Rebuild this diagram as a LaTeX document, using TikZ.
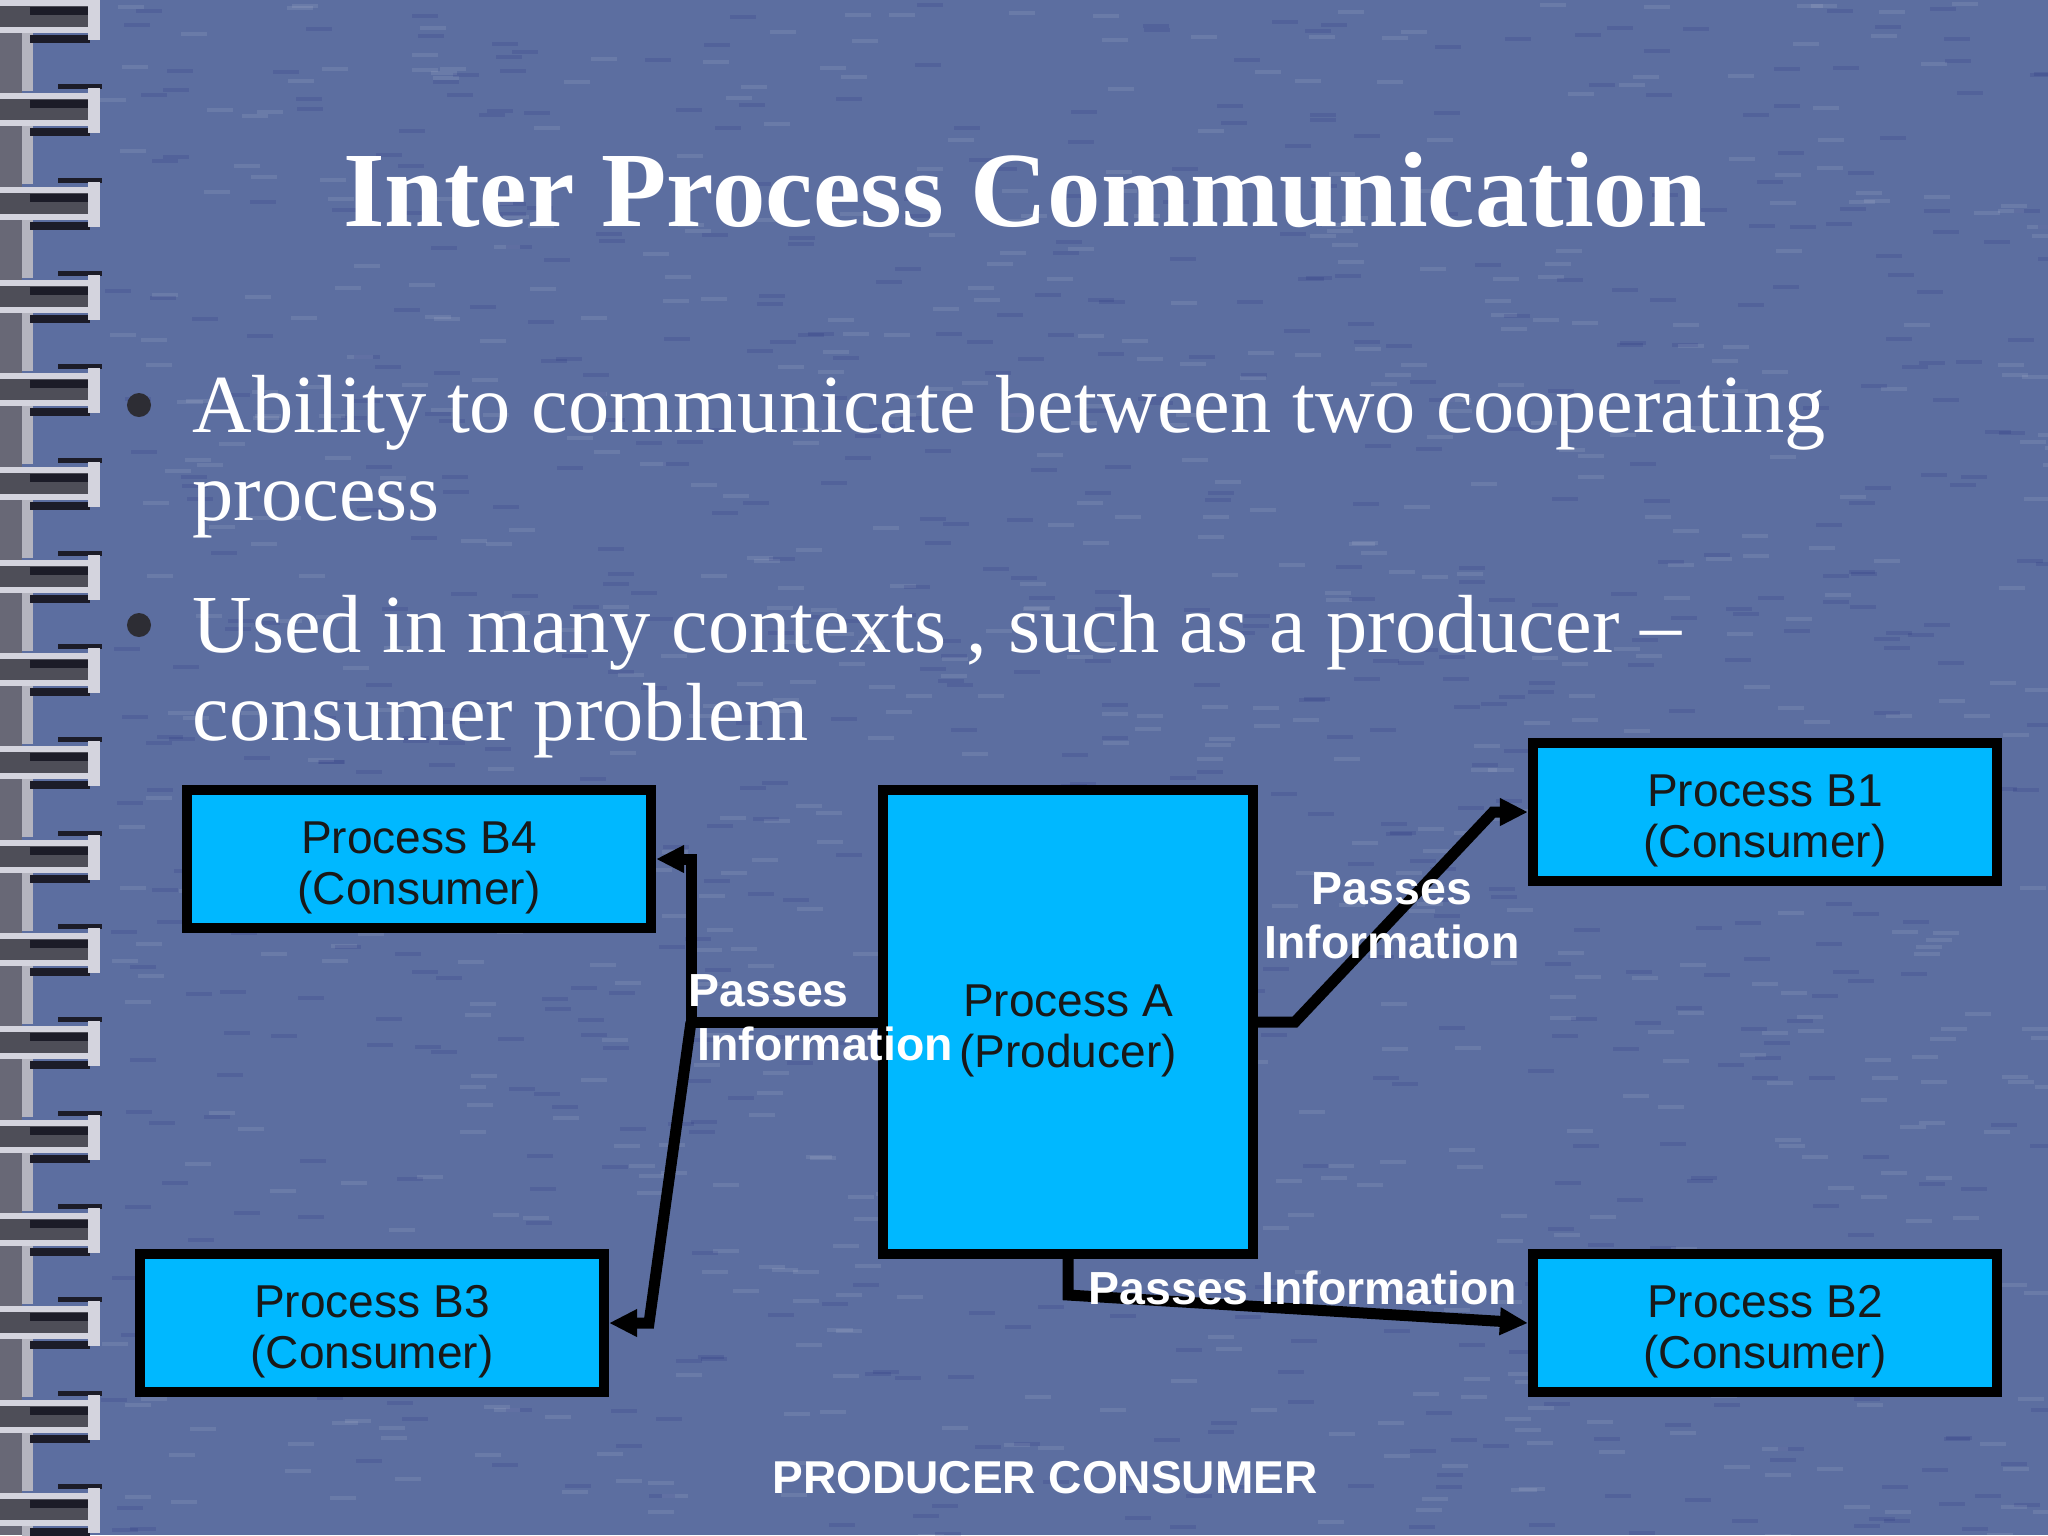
\documentclass[tikz,border=0pt]{standalone}
\usepackage{fontspec}
\setmainfont{Liberation Serif}
\newfontfamily\procfont{Liberation Sans}
\usetikzlibrary{arrows.meta}

\definecolor{denim}{RGB}{92,110,160}
\definecolor{procblue}{RGB}{0,184,255}
\definecolor{wire}{RGB}{212,212,222}
\definecolor{wireshade}{RGB}{28,28,40}
\definecolor{gapgrey}{RGB}{104,104,118}
\definecolor{dotgrey}{RGB}{45,45,52}

\tikzset{
  proc/.style={draw=black, line width=0.1cm, fill=procblue, inner sep=0pt,
    minimum width=4.64cm, minimum height=1.38cm, align=center,
    text=black!90, font=\procfont\fontsize{13.1}{14.5}\selectfont},
  pass/.style={line width=0.11cm, -{Triangle[length=0.28cm,width=0.26cm]}},
  passlabel/.style={text=white, inner sep=0pt,
    font=\procfont\bfseries\fontsize{13.2}{15.1}\selectfont},
  bullet/.style={text=white, inner sep=0pt, align=left, anchor=base west,
    font=\fontsize{23.45}{25}\selectfont},
}

\begin{document}
\begin{tikzpicture}[x=0.01cm, y=-0.01cm]

% Page and denim background
\useasboundingbox (0,0) rectangle (2048,1535);
\fill[denim] (0,0) rectangle (2048,1535);
\pgfmathsetseed{11}
\foreach \i in {1,...,700}{
  \pgfmathsetmacro\tx{100+rnd*1950}
  \pgfmathsetmacro\ty{rnd*1535}
  \fill[white, opacity=0.09] (\tx,\ty) rectangle (\tx+26,\ty+4);
  \pgfmathsetmacro\tx{100+rnd*1950}
  \pgfmathsetmacro\ty{rnd*1535}
  \fill[black!60!blue, opacity=0.1] (\tx,\ty) rectangle (\tx+26,\ty+4);
}

% Spiral binding on the left
\fill[gapgrey] (0,0) rectangle (22,1535);
\foreach \k in {0,...,16}{
  \pgfmathsetmacro\yy{3+93.3*\k}
  \fill[gapgrey!75!black] (0,\yy) rectangle (88,\yy+27);
  \fill[wire!70!gapgrey] (22,\yy+30) rectangle (33,\yy+88);
  \fill[wireshade] (58,\yy-12) rectangle (102,\yy-7);
  \fill[wireshade] (30,\yy+4) rectangle (90,\yy+12);
  \fill[wireshade] (30,\yy+32) rectangle (90,\yy+40);
  \fill[wire] (0,\yy-3) rectangle (92,\yy+3);
  \fill[wire] (0,\yy+24) rectangle (90,\yy+30);
  \fill[wire] (88,\yy-8) rectangle (100,\yy+37);
}

% Title
\node[anchor=base, text=white, inner sep=0pt,
  font=\bfseries\fontsize{30.4}{36}\selectfont] (title) at (1025,226)
  {Inter Process Communication};

% Bullet points
\fill[dotgrey] (139,405) circle (0.12cm);
\node[bullet] (point1) at (192,520)
  {Ability to communicate between two cooperating\\process};
\fill[dotgrey] (139,625) circle (0.12cm);
\node[bullet] (point2) at (192,740)
  {Used in many contexts , such as a producer --\\consumer problem};

% Processes
\node[proc, minimum width=3.7cm, minimum height=4.63cm] (A) at (1068,1022)
  {\rule{0pt}{0.49cm}Process A\\(Producer)};
\node[proc] (B1) at (1765,812) {\rule{0pt}{0.5cm}Process B1\\(Consumer)};
\node[proc] (B2) at (1765,1323) {\rule{0pt}{0.5cm}Process B2\\(Consumer)};
\node[proc] (B3) at (372,1323) {\rule{0pt}{0.5cm}Process B3\\(Consumer)};
\node[proc] (B4) at (419,859) {\rule{0pt}{0.5cm}Process B4\\(Consumer)};

% Bend points of the connectors
\coordinate (jl) at (691,1022);
\coordinate (jb3) at (649,1323);
\coordinate (jr) at (1295,1022);
\coordinate (jb1) at (1493,812);
\coordinate (jd) at (1068,1295);

% Connectors
\draw[pass] (A.west) -- (jl) |- (B4.east);
\draw[pass] (jl) -- (jb3) -- (B3.east);
\draw[pass] (A.east) -- (jr) -- (jb1) -- (B1.west);
\draw[pass] (A.south) -- (jd) -- (B2.west);

% Connector labels
\node[passlabel, align=left, anchor=base west] (passleft) at (688,1060)
  {Passes\\\hspace*{0.09cm}Information};
\node[passlabel, align=center, anchor=base] (passright) at (1392,958)
  {Passes\\Information};
\node[passlabel, anchor=base west] (passdown) at (1088,1304)
  {Passes Information};

% Caption
\node[passlabel, anchor=base, font=\procfont\bfseries\fontsize{13.1}{15}\selectfont]
  (caption) at (1045,1493) {PRODUCER CONSUMER};

\end{tikzpicture}
\end{document}
